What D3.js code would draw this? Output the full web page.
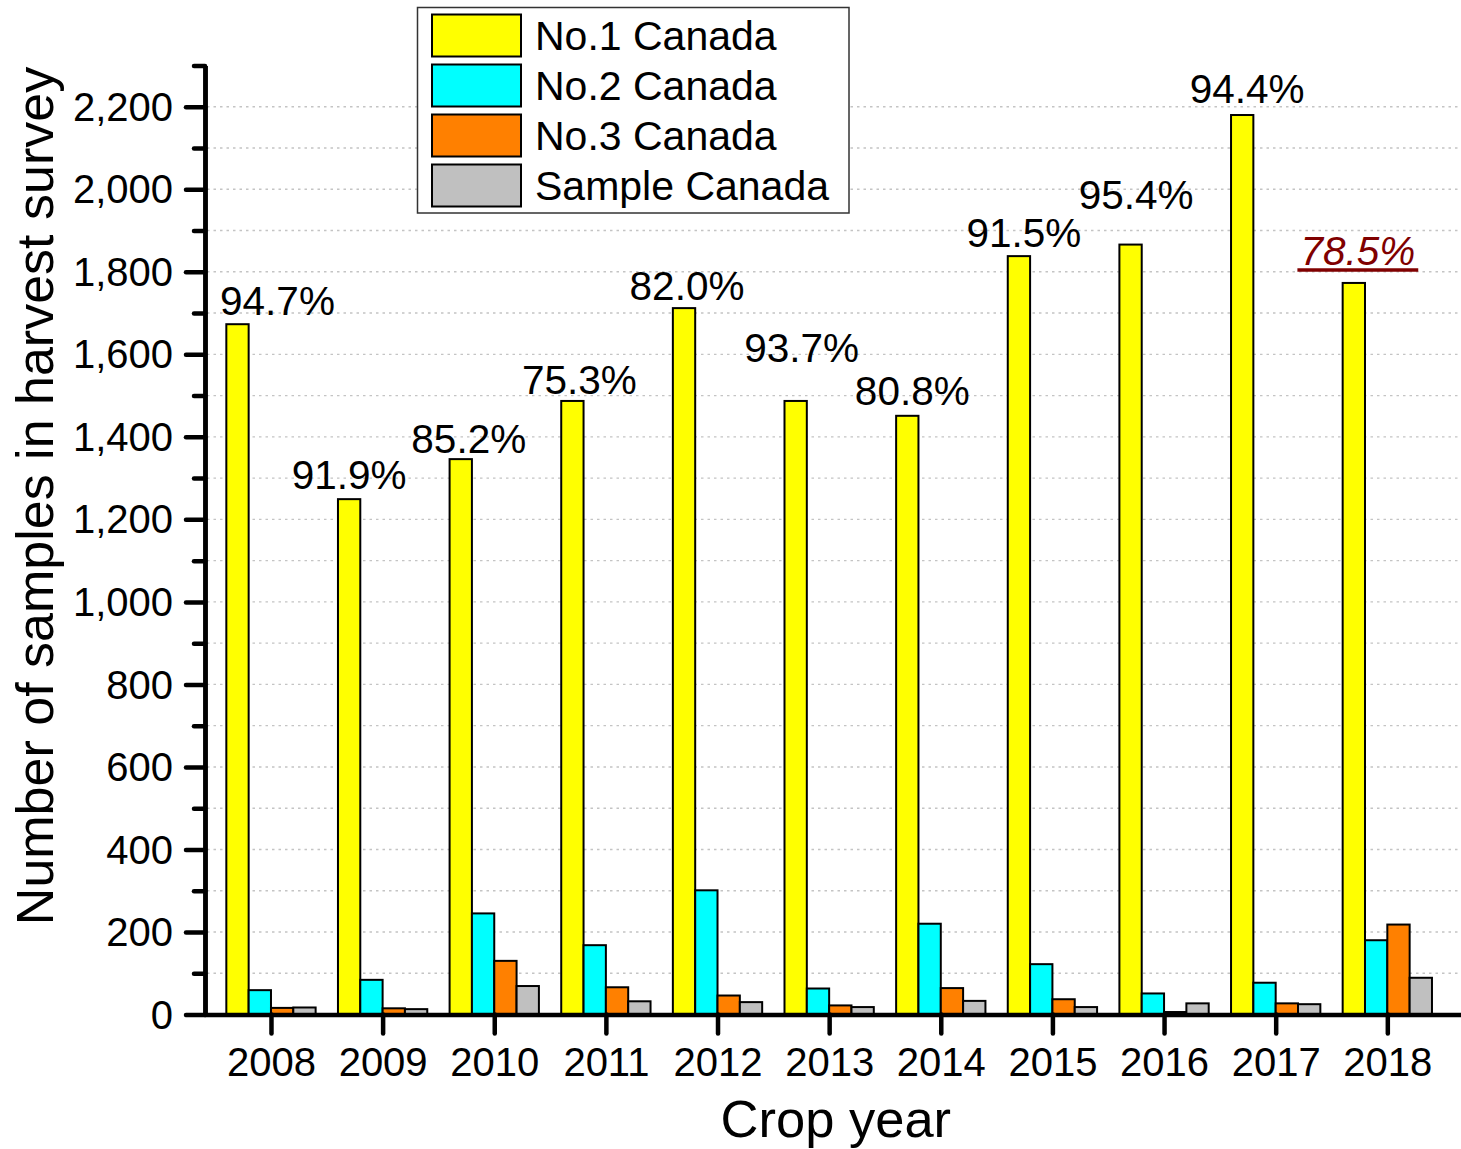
<!DOCTYPE html>
<html>
<head>
<meta charset="utf-8">
<script src="https://cdn.jsdelivr.net/npm/d3@7"></script>
<style>
  html, body { margin: 0; padding: 0; background: #fff; }
  svg { display: block; font-family: "Liberation Sans", Arial, sans-serif; }
</style>
</head>
<body>
<svg id="chart" width="1461" height="1149"></svg>
<script>
// ---------- data ----------
const years = [2008, 2009, 2010, 2011, 2012, 2013, 2014, 2015, 2016, 2017, 2018];
const seriesNames = ["No.1 Canada", "No.2 Canada", "No.3 Canada", "Sample Canada"];
const no1 = [1673, 1249, 1346, 1487, 1712, 1487, 1451, 1838, 1866, 2180, 1773];
const no2 = [59, 84, 245, 168, 301, 63, 220, 122, 51, 77, 180];
const no3 = [16, 15, 130, 66, 46, 22, 64, 37, 6, 27, 218];
const sample = [17, 13, 69, 32, 30, 18, 33, 18, 27, 25, 89];
const percentLabels = ["94.7%", "91.9%", "85.2%", "75.3%", "82.0%", "93.7%", "80.8%", "91.5%", "95.4%", "94.4%", "78.5%"];
const yTickValues = [0, 200, 400, 600, 800, 1000, 1200, 1400, 1600, 1800, 2000, 2200];
const xTitle = "Crop year";
const yTitle = "Number of samples in harvest survey";

// annotation nudges (px) for the percentage labels: [dx from No.1 bar centre, gap above bar top]
const labelDx = [40, 0, 8, 7, 3, 6, 5, 5, 5.5, 5, 4];
const labelGap = [9, 10, 6, 7, 8, 39, 11, 9, 36, 12, 18];

const seriesValues = [no1, no2, no3, sample];
const colors = ["#FFFF00", "#00FFFF", "#FF8000", "#C0C0C0"];

// ---------- scales ----------
const svg = d3.select("#chart");
const x = d3.scaleLinear().domain([2007.4, 2018.66]).range([204, 1461]);
const y = d3.scaleLinear().domain([0, 2300]).range([1014.5, 65.5]);
const bw = x(2008.2) - x(2008);

// ---------- gridlines ----------
const gridVals = d3.range(100, 2201, 100);
svg.append("g").selectAll("line").data(gridVals).join("line")
  .attr("x1", 207).attr("x2", 1461)
  .attr("y1", d => y(d)).attr("y2", d => y(d))
  .attr("stroke", "#c4c4c4").attr("stroke-width", 1.4)
  .attr("stroke-dasharray", "2.5,4");

// ---------- bars ----------
const barG = svg.append("g");
seriesValues.forEach((vals, s) => {
  barG.append("g").selectAll("rect").data(vals).join("rect")
    .attr("x", (d, i) => x(years[i]) + (s - 2) * bw)
    .attr("width", bw)
    .attr("y", d => y(d))
    .attr("height", d => y(0) - y(d))
    .attr("fill", colors[s])
    .attr("stroke", "#000")
    .attr("stroke-width", 2);
});

// ---------- axes ----------
const axisStyle = g => {
  g.selectAll("path.domain").attr("stroke", "#000").attr("stroke-width", 4.5);
  g.selectAll(".tick line").attr("stroke", "#000").attr("stroke-width", 4.5).attr("stroke-linecap", "round");
  g.selectAll(".tick text").attr("fill", "#000").attr("font-size", 40)
    .attr("font-family", "'Liberation Sans', Arial, sans-serif");
};

// minor y ticks
const minorVals = d3.range(100, 2301, 200);
svg.append("g").attr("transform", "translate(205,0)")
  .call(d3.axisLeft(y).tickValues(minorVals).tickSize(11).tickSizeOuter(0).tickFormat(""))
  .call(axisStyle);

// major y ticks
const yAxisG = svg.append("g").attr("transform", "translate(205,0)")
  .call(d3.axisLeft(y).tickValues(yTickValues).tickSize(19).tickSizeOuter(0).tickPadding(13)
    .tickFormat(d3.format(",")))
  .call(axisStyle);
yAxisG.selectAll(".tick text").attr("dy", "0.34em");

// x axis
const xAxisG = svg.append("g").attr("transform", `translate(0,${y(0)})`)
  .call(d3.axisBottom(x).tickValues(years).tickSize(19).tickSizeOuter(0).tickPadding(14)
    .tickFormat(d3.format("d")))
  .call(axisStyle);
xAxisG.selectAll(".tick text").attr("dy", "0.71em");

// ---------- percentage labels ----------
const lblG = svg.append("g");
percentLabels.forEach((t, i) => {
  const cx = x(years[i]) - 1.5 * bw + labelDx[i];
  const by = y(no1[i]) - labelGap[i];
  const last = i === percentLabels.length - 1;
  const txt = lblG.append("text")
    .attr("x", cx).attr("y", by)
    .attr("text-anchor", "middle")
    .attr("font-size", 40.5)
    .attr("fill", last ? "#800000" : "#000")
    .attr("font-style", last ? "italic" : "normal")
    .text(t);
  if (last) {
    const bb = txt.node().getBBox();
    lblG.append("line")
      .attr("x1", bb.x - 3).attr("x2", bb.x + bb.width + 3)
      .attr("y1", by + 5).attr("y2", by + 5)
      .attr("stroke", "#800000").attr("stroke-width", 3.5);
  }
});

// ---------- titles ----------
svg.append("text")
  .attr("x", x(2013.06)).attr("y", 1137)
  .attr("text-anchor", "middle").attr("font-size", 52.5).attr("fill", "#000")
  .text(xTitle);
svg.append("text")
  .attr("transform", `translate(53,${496}) rotate(-90)`)
  .attr("text-anchor", "middle").attr("font-size", 52).attr("fill", "#000")
  .text(yTitle);

// ---------- legend ----------
const lg = svg.append("g");
lg.append("rect").attr("x", 417.5).attr("y", 7.5).attr("width", 431.5).attr("height", 205.5)
  .attr("fill", "#fff").attr("stroke", "#333").attr("stroke-width", 1.5);
seriesNames.forEach((n, i) => {
  lg.append("rect").attr("x", 432).attr("y", 14.5 + i * 50).attr("width", 89).attr("height", 42)
    .attr("fill", colors[i]).attr("stroke", "#000").attr("stroke-width", 2);
  lg.append("text").attr("x", 535).attr("y", 49.5 + i * 50)
    .attr("font-size", 41).attr("fill", "#000").text(n);
});
</script>
</body>
</html>
